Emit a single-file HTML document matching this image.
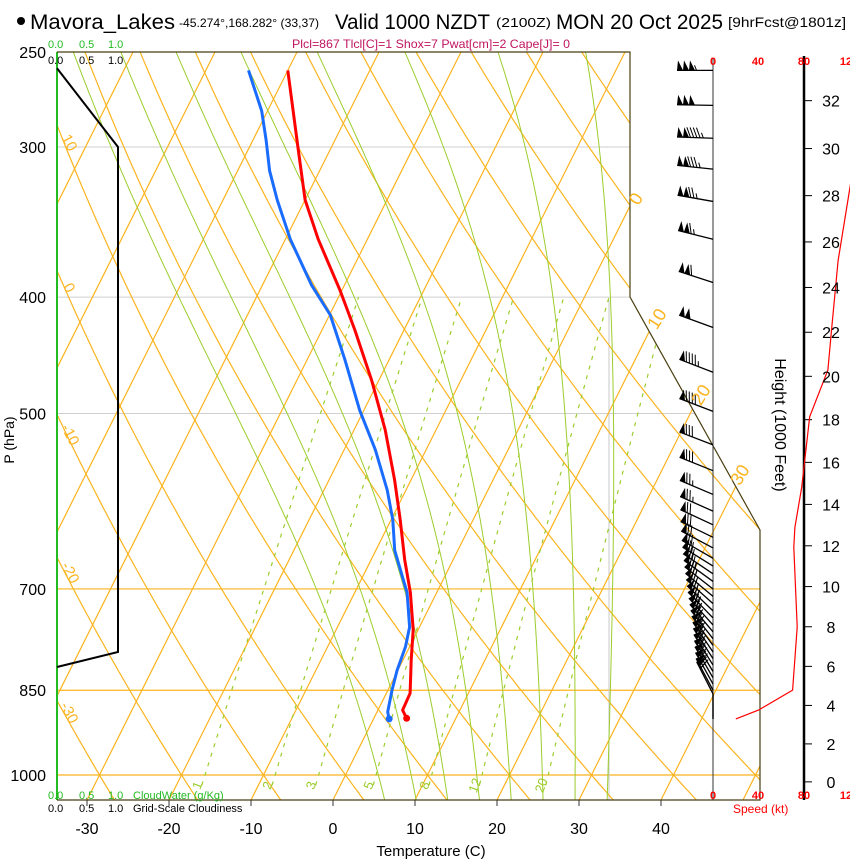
<!DOCTYPE html>
<html><head><meta charset="utf-8"><style>
html,body{margin:0;padding:0;background:#fff}
svg{display:block;font-family:"Liberation Sans",sans-serif}
</style></head><body>
<svg id="chart" width="850" height="860" viewBox="0 0 850 860" xmlns="http://www.w3.org/2000/svg">
<defs><clipPath id="plotclip"><polygon points="57,52 630,52 630,297 760,530 760,800 57,800"/></clipPath></defs>
<g id="title">
 <circle cx="21" cy="21" r="4" fill="#000"/>
 <text x="30" y="29" font-size="21" textLength="145" lengthAdjust="spacingAndGlyphs">Mavora_Lakes</text>
 <text x="179" y="27" font-size="12" textLength="140" lengthAdjust="spacingAndGlyphs">-45.274°,168.282° (33,37)</text>
 <text x="335" y="29" font-size="21" textLength="155" lengthAdjust="spacingAndGlyphs">Valid 1000 NZDT</text>
 <text x="496" y="27" font-size="13" textLength="55" lengthAdjust="spacingAndGlyphs">(2100Z)</text>
 <text x="556" y="29" font-size="21" textLength="167" lengthAdjust="spacingAndGlyphs">MON 20 Oct 2025</text>
 <text x="728" y="27" font-size="14" textLength="118" lengthAdjust="spacingAndGlyphs">[9hrFcst@1801z]</text>
</g>
<text x="292" y="48" font-size="12" fill="#c01560" textLength="278" lengthAdjust="spacingAndGlyphs">Plcl=867 Tlcl[C]=1 Shox=7 Pwat[cm]=2 Cape[J]= 0</text>
<g id="grid" clip-path="url(#plotclip)"></g>
<g id="profiles" clip-path="url(#plotclip)"></g>
<g id="frame"></g>
<g id="winds"></g>
<g id="labels"></g>
</svg>
<script>
// ---- data ----
const tempP   = [259,300,332,358,395,426,469,516,568,613,662,705,757,802,855,883,897];
const tempT   = [-50.0,-44.1,-40.0,-36.0,-30.2,-26.0,-20.9,-16.2,-12.0,-8.9,-5.9,-3.2,-0.6,1.0,2.9,3.0,4.0];
const dewP    = [259,280,296,314,332,358,391,414,451,497,536,579,613,650,705,753,782,818,850,886,898];
const dewT    = [-54.8,-50.7,-48.4,-46.1,-43.4,-39.4,-34.0,-29.9,-25.4,-20.5,-16.2,-12.3,-9.8,-7.7,-3.6,-1.2,-0.5,-0.1,0.5,1.3,1.9];
const pressureTicks = [250,300,400,500,700,850,1000];
const tempTicks = [-30,-20,-10,0,10,20,30,40];
const mixRatios = [1,2,3,5,8,12,20];
const moistThetaW = [4,8,12,16,20,24,28,32];
const heightTicks = [0,2,4,6,8,10,12,14,16,18,20,22,24,26,28,30,32];
const speedP  = [898,883,850,753,646,622,576,503,460,428,373,326,300];
const speedKt = [20,40,70,74,71,72,78,85,101,104,110,120,126];
const barbP   = [259,277,295,313,333,358,389,424,462,498,531,558,584,603,619,634,647,660,670,680,690,700,710,720,730,740,750,760,770,780,790,800,810,820,830,840,850,856];
const barbKt  = [155,150,145,135,125,115,110,100,95,88,82,78,76,74,72,72,71,71,72,72,73,74,74,74,74,74,74,74,73,73,72,72,72,71,71,70,68,60];
const barbDir = [270,271,272,276,280,284,288,290,291,291,291,292,293,294,295,296,298,300,302,304,306,308,310,312,314,316,318,320,322,324,326,327,328,329,330,331,332,333];
const cloudP  = [258,300,790,813];
const cloudFrac=[0.0,1.0,1.0,0.0];

// ---- axes ----
const NS='http://www.w3.org/2000/svg';
function yP(p){return 775-521.6*Math.log(1000/p);}
function xT(t,p){return 333+8.2*t+0.5*(800-yP(p));}
function xTy(t,y){return 333+8.2*t+0.5*(800-y);}
function xSpd(s){return 713+s*45.5/40;}
function mk(tag,attrs,parent){const e=document.createElementNS(NS,tag);for(const k in attrs)e.setAttribute(k,attrs[k]);parent.appendChild(e);return e;}
const grid=document.getElementById('grid'),prof=document.getElementById('profiles'),frame=document.getElementById('frame'),winds=document.getElementById('winds'),labels=document.getElementById('labels');
const ORANGE='#fbb41e',GREEN='#9ccd2c';
function pathFrom(pts){return 'M'+pts.map(q=>q[0].toFixed(1)+','+q[1].toFixed(1)).join('L');}

[300,400,500].forEach(p=>{const l=mk('line',{x1:57,x2:760,y1:yP(p),y2:yP(p),stroke:'#cfcfcf','stroke-width':1},grid);
});
[700,850,1000].forEach(p=>{const l=mk('line',{x1:57,x2:760,y1:yP(p),y2:yP(p),stroke:ORANGE,'stroke-width':1.2},grid);
});
mk('line',{x1:609,x2:609,y1:300,y2:800,stroke:'#c8c8c8','stroke-width':1},grid);
for(let t=-140;t<=50;t+=10){const l=mk('line',{x1:xTy(t,800),y1:800,x2:xTy(t,52),y2:52,stroke:ORANGE,'stroke-width':1.2},grid);
}
for(let th=-40;th<=170;th+=10){const pts=[];for(let p=1060;p>=245;p-=5){const T=(th+273.15)*Math.pow(p/1000,0.2857)-273.15;pts.push([xT(T,p),yP(p)]);}
const l=mk('path',{d:pathFrom(pts),fill:'none',stroke:ORANGE,'stroke-width':1.2},grid);
}
function rs(T,p){const es=6.112*Math.exp(17.67*T/(T+243.5));return 0.622*es/(p-es);}
function dTdp(T,p){const Tk=T+273.15,r=rs(T,p),Lv=2.5e6;return (287*Tk+Lv*r)/(p*(1005+Lv*Lv*r*0.622/(287*Tk*Tk)));}
moistThetaW.forEach(tw=>{let pts=[];let T=tw;for(let p=1000;p<1060;p+=2){T+=dTdp(T,p)*2;}
let Tb=T;for(let p=1060;p>=246;p-=2){pts.push([xT(Tb,p),yP(p)]);Tb-=dTdp(Tb,p)*2;}
const l=mk('path',{d:pathFrom(pts),fill:'none',stroke:GREEN,'stroke-width':1},grid);
});
function tdFromW(w,p){const e=w*p/(622+w);const a=Math.log(e/6.112);return 243.5*a/(17.67-a);}
mixRatios.forEach(w=>{const pts=[];for(let p=1020;p>=400;p-=10)pts.push([xT(tdFromW(w,p),p),yP(p)]);
const l=mk('path',{d:pathFrom(pts),fill:'none',stroke:GREEN,'stroke-width':1.2,'stroke-dasharray':'4,6'},grid);

const x=xT(tdFromW(w,1023),1023),y=yP(1023);
const t=mk('text',{x:x,y:y,'font-size':13,fill:GREEN,'text-anchor':'middle',transform:`rotate(-70 ${x} ${y})`},labels);t.textContent=w;
});

function profPath(P,T){return pathFrom(P.map((p,i)=>[xT(T[i],p),yP(p)]));}
let e=mk('path',{d:profPath(dewP,dewT),fill:'none',stroke:'#1a6cff','stroke-width':3,'stroke-linejoin':'round'},prof);

e=mk('path',{d:profPath(tempP,tempT),fill:'none',stroke:'#ff0000','stroke-width':3,'stroke-linejoin':'round'},prof);

e=mk('circle',{cx:xT(dewT[dewT.length-1],dewP[dewP.length-1]),cy:yP(dewP[dewP.length-1]),r:3.5,fill:'#1a6cff'},prof);

e=mk('circle',{cx:xT(tempT[tempT.length-1],tempP[tempP.length-1]),cy:yP(tempP[tempP.length-1]),r:3.5,fill:'#ff0000'},prof);


mk('line',{x1:57,x2:57,y1:52,y2:800,stroke:'#22bb22','stroke-width':2},frame);
e=mk('path',{d:pathFrom(cloudP.map((p,i)=>[57+cloudFrac[i]*61,yP(p)])),fill:'none',stroke:'#000','stroke-width':2},frame);

e=mk('polyline',{points:'57,52 630,52 630,297 760,530 760,800 57,800',fill:'none',stroke:'#4a3f10','stroke-width':1.2},frame);

mk('line',{x1:713,x2:713,y1:58,y2:800,stroke:'#333','stroke-width':1},frame);
e=mk('line',{x1:804,x2:804,y1:56,y2:800,stroke:'#000','stroke-width':2.5},frame);

heightTicks.forEach(h=>{const p=1013.25*Math.pow(1-2.25577e-5*h*304.8,5.25588);const y=yP(p);
mk('line',{x1:804,x2:812,y1:y,y2:y,stroke:'#000','stroke-width':1},frame);
const t=mk('text',{x:831,y:y+6,'font-size':16,'text-anchor':'middle'},labels);t.textContent=h;
});
e=mk('path',{d:pathFrom(speedP.map((p,i)=>[xSpd(speedKt[i]),yP(p)])),fill:'none',stroke:'#ff0000','stroke-width':1.2},winds);

barbP.forEach((p,i)=>{const y0=yP(p),x0=713,a=barbDir[i]*Math.PI/180;const ux=Math.sin(a),uy=-Math.cos(a);
const L=36;const g=mk('g',{},winds);


const tx=x0+ux*L,ty=y0+uy*L;mk('line',{x1:x0,y1:y0,x2:tx,y2:ty,stroke:'#000','stroke-width':1.3},g);
let px=uy,py=-ux;if(py>0){px=-px;py=-py;}
let s=barbKt[i];let d=0;
while(s>=48){const bx=tx-ux*d,by=ty-uy*d;const cx=tx-ux*(d+6),cy=ty-uy*(d+6);
mk('polygon',{points:`${bx},${by} ${bx+px*10-ux*1},${by+py*10-uy*1} ${cx},${cy}`,fill:'#000'},g);d+=6;s-=50;}
if(d>0)d+=1.5;
while(s>=8){const bx=tx-ux*d,by=ty-uy*d;mk('line',{x1:bx,y1:by,x2:bx+px*10+ux*4,y2:by+py*10+uy*4,stroke:'#000','stroke-width':1},g);d+=3.2;s-=10;}
if(s>=3){const bx=tx-ux*d,by=ty-uy*d;mk('line',{x1:bx,y1:by,x2:bx+px*5+ux*2,y2:by+py*5+uy*2,stroke:'#000','stroke-width':1},g);}
});
mk('line',{x1:713,x2:713,y1:yP(856),y2:yP(898),stroke:'#000','stroke-width':1.5},winds);

pressureTicks.forEach(p=>{const t=mk('text',{x:46,y:yP(p)+6,'font-size':16,'text-anchor':'end'},labels);t.textContent=p;
});
tempTicks.forEach(T=>{const x=333+8.2*T;mk('line',{x1:x,x2:x,y1:800,y2:806,stroke:'#333'},labels);
const t=mk('text',{x:x,y:834,'font-size':16,'text-anchor':'middle'},labels);t.textContent=T;
});
const thetaLeft=[[65,145,'10'],[65,290,'0'],[66,437,'-10'],[66,575,'-20'],[65,715,'-30']];
thetaLeft.forEach(q=>{const t=mk('text',{x:q[0],y:q[1],'font-size':15,fill:ORANGE,'text-anchor':'middle',transform:`rotate(62 ${q[0]} ${q[1]})`},labels);t.textContent=q[2];
});
const thetaRight=[[641,202,'0'],[662,322,'10'],[706,398,'20'],[745,478,'30']];
thetaRight.forEach(q=>{const t=mk('text',{x:q[0],y:q[1],'font-size':18,fill:ORANGE,'text-anchor':'middle',transform:`rotate(-58 ${q[0]} ${q[1]})`},labels);t.textContent=q[2];
});
</script>
<script>
const lab=document.getElementById('labels');
const html=`
<text x="14" y="440" font-size="14" text-anchor="middle" transform="rotate(-90 14 440)">P (hPa)</text>
<text x="431" y="856" font-size="15" text-anchor="middle">Temperature (C)</text>
<text x="775" y="425" font-size="16" text-anchor="middle" transform="rotate(90 775 425)">Height (1000 Feet)</text>
<g font-size="11" fill="#22bb22"><text x="48" y="48">0.0</text><text x="79" y="48">0.5</text><text x="108" y="48">1.0</text></g>
<g font-size="11" fill="#000"><text x="48" y="64">0.0</text><text x="79" y="64">0.5</text><text x="108" y="64">1.0</text></g>
<g font-size="11" fill="#22bb22"><text x="48" y="799">0.0</text><text x="79" y="799">0.5</text><text x="108" y="799">1.0</text><text x="133" y="799">CloudWater (g/Kg)</text></g>
<g font-size="11" fill="#000"><text x="48" y="812">0.0</text><text x="79" y="812">0.5</text><text x="108" y="812">1.0</text><text x="133" y="812">Grid-Scale Cloudiness</text></g>
<g font-size="11" font-weight="bold" fill="#ff0000" text-anchor="middle"><text x="713" y="65">0</text><text x="758" y="65">40</text><text x="804" y="65">80</text><text x="846" y="65">12</text></g>
<g font-size="11" font-weight="bold" fill="#ff0000" text-anchor="middle"><text x="713" y="799">0</text><text x="758" y="799">40</text><text x="804" y="799">80</text><text x="846" y="799">12</text></g>
<text x="733" y="813" font-size="12" fill="#ff0000">Speed (kt)</text>`;
lab.insertAdjacentHTML('beforeend',html);
</script>
</body></html>
